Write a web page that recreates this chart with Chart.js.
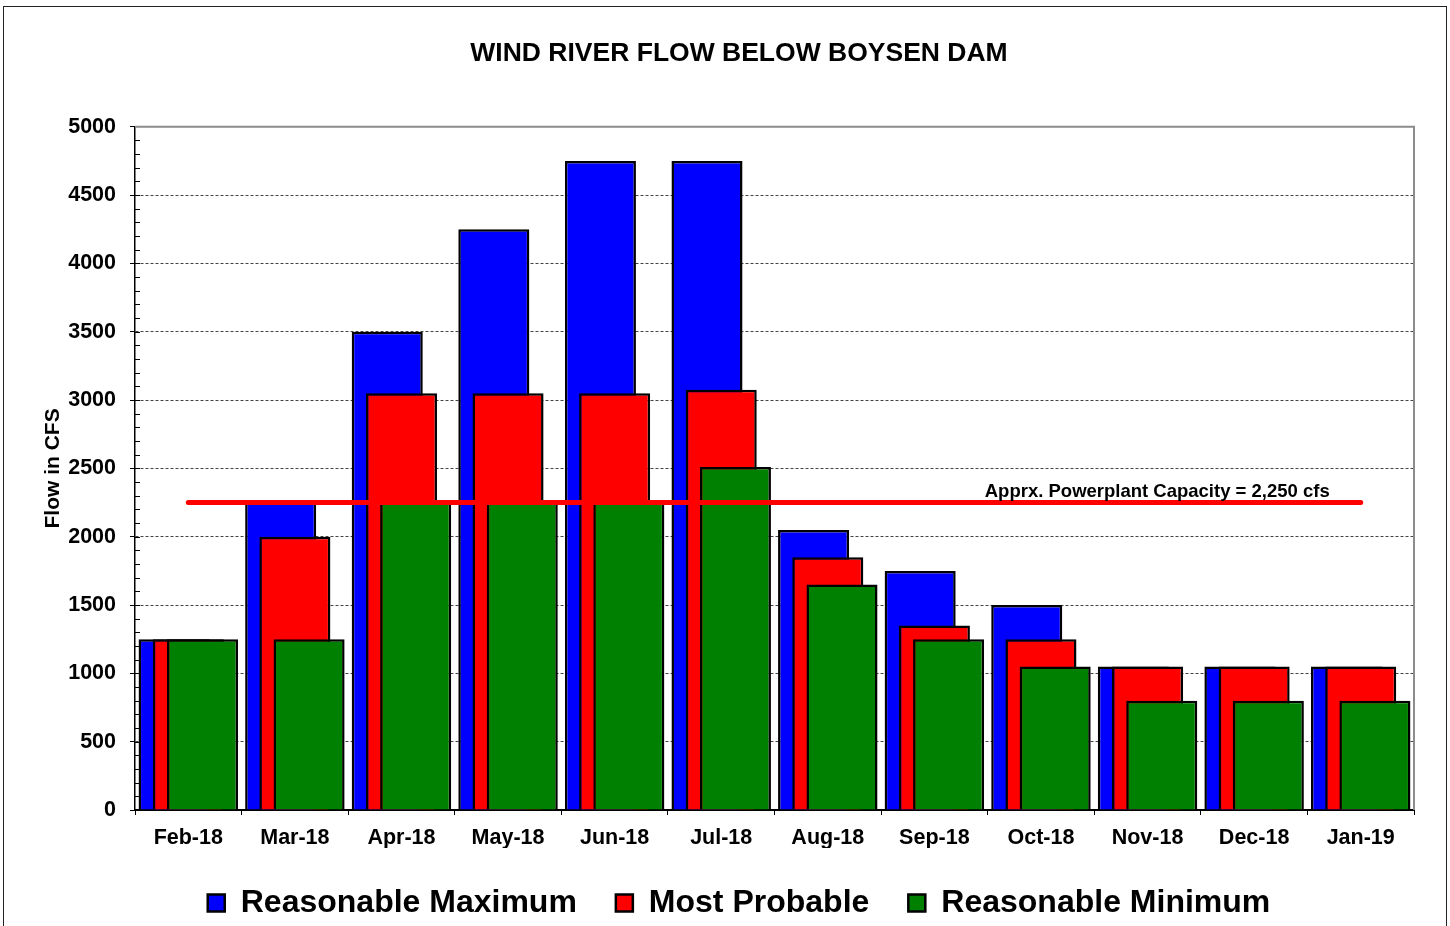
<!DOCTYPE html>
<html lang="en">
<head>
  <meta charset="UTF-8">
  <title>Wind River Flow Below Boysen Dam</title>
  <script src="https://cdn.jsdelivr.net/npm/chart.js"></script>
  <style>
    body { margin: 0; background: white; }
    #wrap { position: relative; width: 1450px; height: 926px; overflow: hidden; }
    #frame {
      position: absolute; left: 3px; top: 6px; width: 1442px; height: 940px;
      border: 1px solid #222; pointer-events: none;
    }
  </style>
</head>
<body>
<div id="wrap">
  <canvas id="flowChart"></canvas>
  <div id="frame"></div>
</div>
<script>
const months = ['Feb-18', 'Mar-18', 'Apr-18', 'May-18', 'Jun-18', 'Jul-18',
                'Aug-18', 'Sep-18', 'Oct-18', 'Nov-18', 'Dec-18', 'Jan-19'];
const reasonableMax = [1250, 2250, 3500, 4250, 4750, 4750, 2050, 1750, 1500, 1050, 1050, 1050];
const mostProbable  = [1250, 2000, 3050, 3050, 3050, 3075, 1850, 1350, 1250, 1050, 1050, 1050];
const reasonableMin = [1250, 1250, 2250, 2250, 2250, 2510, 1650, 1250, 1050,  800,  800,  800];
const powerplantCapacity = 2250;
const capacityLabel = 'Apprx. Powerplant Capacity = 2,250 cfs';
const yTicks = [0, 500, 1000, 1500, 2000, 2500, 3000, 3500, 4000, 4500, 5000];

const FONT = "'Liberation Sans', Arial, sans-serif";
const PAD_LEFT = 64;   // nudges title/legend centre right, like the original

// draw datasets in array order so green sits on top of red on top of blue
const drawInOrder = {
  id: 'drawInOrder',
  beforeDatasetsDraw(chart) {
    chart.data.datasets.forEach((ds, i) => {
      if (chart.isDatasetVisible(i)) chart.getDatasetMeta(i).controller.draw();
    });
    return false;
  }
};

const extras = {
  id: 'extras',
  afterDraw(chart) {
    const ctx = chart.ctx;
    const a = chart.chartArea;
    const x = chart.scales.x, y = chart.scales.y;
    ctx.save();
    // top and right frame of the plot
    ctx.strokeStyle = '#8c8c8c';
    ctx.lineWidth = 2;
    ctx.beginPath();
    ctx.moveTo(a.left, a.top);
    ctx.lineTo(a.right, a.top);
    ctx.lineTo(a.right, a.bottom);
    ctx.stroke();
    // minor ticks inside the y axis
    ctx.strokeStyle = '#000';
    ctx.lineWidth = 1;
    ctx.beginPath();
    for (let v = 100; v < 5000; v += 100) {
      const py = Math.round(y.getPixelForValue(v)) + 0.5;
      ctx.moveTo(a.left, py);
      ctx.lineTo(a.left + 5, py);
    }
    ctx.stroke();
    // capacity label
    ctx.fillStyle = '#000';
    ctx.font = 'bold 18.5px ' + FONT;
    ctx.textAlign = 'right';
    ctx.textBaseline = 'alphabetic';
    ctx.fillText(capacityLabel, x.getPixelForValue(11) - 31, y.getPixelForValue(powerplantCapacity) - 6);
    ctx.restore();
  }
};

new Chart(document.getElementById('flowChart'), {
  type: 'bar',
  data: {
    labels: months,
    datasets: [
      { label: 'Reasonable Maximum', data: reasonableMax, backgroundColor: '#0000ff' },
      { label: 'Most Probable', data: mostProbable, backgroundColor: '#ff0000' },
      { label: 'Reasonable Minimum', data: reasonableMin, backgroundColor: '#008000' },
      {
        type: 'line', label: 'capacity',
        data: months.map(() => powerplantCapacity),
        borderColor: '#ff0000', borderWidth: 5, borderCapStyle: 'round',
        pointRadius: 0, fill: false
      }
    ]
  },
  options: {
    responsive: true,
    maintainAspectRatio: false,
    animation: false,
    layout: { padding: { left: PAD_LEFT, right: 36, top: 0, bottom: -3 } },
    datasets: {
      bar: {
        borderColor: '#000',
        borderWidth: 2.5,
        categoryPercentage: 0.4,
        barPercentage: 5
      }
    },
    plugins: {
      title: {
        display: true,
        text: 'WIND RIVER FLOW BELOW BOYSEN DAM',
        color: '#000',
        font: { family: FONT, size: 26.5, weight: 'bold' },
        padding: { top: 38, bottom: 57 }
      },
      legend: {
        position: 'bottom',
        labels: {
          filter: (item) => item.datasetIndex < 3,
          color: '#000',
          font: { family: FONT, size: 32, weight: 'bold' },
          boxWidth: 17,
          boxHeight: 17,
          padding: 39
        }
      },
      tooltip: { enabled: false }
    },
    scales: {
      x: {
        afterFit: (s) => { s.height = 38; },
        grid: {
          offset: true,
          drawOnChartArea: false,
          tickLength: 5,
          color: '#000'
        },
        border: { color: '#000', width: 2 },
        ticks: {
          color: '#000',
          padding: 10,
          maxRotation: 0,
          font: { family: FONT, size: 21.5, weight: 'bold' }
        }
      },
      y: {
        min: 0,
        max: 5000,
        afterFit: (s) => { s.width = 135 - PAD_LEFT; },
        afterBuildTicks: (s) => { s.ticks = yTicks.map(v => ({ value: v })); },
        grid: {
          color: (c) => (c.tick && (c.tick.value === 0 || c.tick.value === 5000)) ? 'rgba(0,0,0,0)' : '#444',
          tickColor: '#000',
          tickLength: 5,
          tickBorderDash: []
        },
        border: { color: '#000', width: 1.5, dash: [3, 2] },
        ticks: {
          color: '#000',
          padding: 14,
          callback: (v) => String(v),
          font: { family: FONT, size: 21.5, weight: 'bold' }
        },
        title: {
          display: true,
          text: 'Flow in CFS',
          color: '#000',
          font: { family: FONT, size: 21, weight: 'bold' },
          padding: { top: 53 - PAD_LEFT - 12.6, bottom: 0 }
        }
      }
    }
  },
  plugins: [drawInOrder, extras]
});
</script>
</body>
</html>
